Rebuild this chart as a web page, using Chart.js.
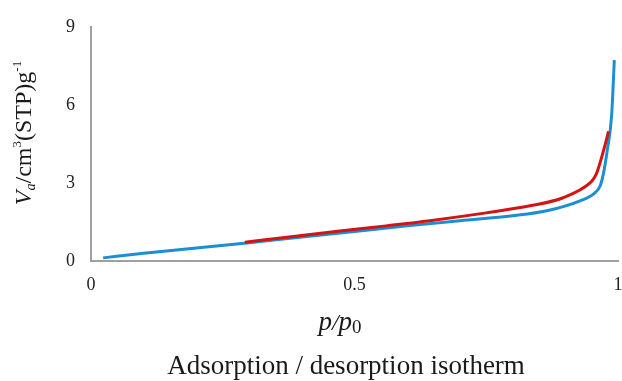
<!DOCTYPE html>
<html>
<head>
<meta charset="utf-8">
<script src="https://cdn.jsdelivr.net/npm/chart.js@4.4.1/dist/chart.umd.min.js"></script>
<style>
  html, body { margin: 0; padding: 0; background: #fff; }
  #wrap { width: 622px; height: 381px; position: relative; }
</style>
</head>
<body>
<div id="wrap"><canvas id="chart"></canvas></div>
<script>
// adsorption branch (blue)
const adsX = [0.023, 0.1, 0.2, 0.3, 0.4, 0.5, 0.6, 0.7, 0.8, 0.865, 0.928, 0.955, 0.966, 0.972, 0.98, 0.988, 0.993];
const adsY = [0.12, 0.3, 0.5, 0.7, 0.92, 1.13, 1.35, 1.55, 1.74, 1.93, 2.31, 2.6, 2.88, 3.33, 4.3, 5.62, 7.72];
// desorption branch (red)
const desX = [0.292, 0.38, 0.472, 0.56, 0.643, 0.75, 0.833, 0.896, 0.947, 0.955, 0.96, 0.972, 0.982];
const desY = [0.72, 0.93, 1.15, 1.35, 1.55, 1.85, 2.12, 2.43, 3.0, 3.2, 3.4, 4.2, 4.98];

const xTicks = [0, 0.5, 1];
const yTicks = [0, 3, 6, 9];

const toPts = (xs, ys) => xs.map((x, i) => ({ x: x, y: ys[i] }));

const serif = '"Liberation Serif", "Times New Roman", serif';

// draws a run of text pieces, each with its own font and baseline shift
function drawRun(ctx, parts, cx, baseline) {
    let total = 0;
    parts.forEach(p => { ctx.font = p.font; p.w = ctx.measureText(p.t).width; total += p.w; });
    let x = cx - total / 2;
    parts.forEach(p => {
        ctx.font = p.font;
        ctx.fillText(p.t, x, baseline + (p.dy || 0));
        x += p.w;
    });
}

const titles = {
    id: 'titles',
    afterDraw(chart) {
        const ctx = chart.ctx;
        ctx.save();
        ctx.fillStyle = '#1a1a1a';
        ctx.textBaseline = 'alphabetic';
        ctx.textAlign = 'left';

        // y axis title, rotated
        ctx.save();
        ctx.translate(31, 133);
        ctx.rotate(-Math.PI / 2);
        drawRun(ctx, [
            { t: 'V', font: 'italic 24px ' + serif },
            { t: 'a', font: 'italic 14px ' + serif, dy: 4 },
            { t: '/cm', font: '24px ' + serif },
            { t: '3', font: '13px ' + serif, dy: -10 },
            { t: '(STP)g', font: '24px ' + serif },
            { t: '-1', font: '13px ' + serif, dy: -10 }
        ], 0, 0);
        ctx.restore();

        // x axis title
        drawRun(ctx, [
            { t: 'p', font: 'italic 27px ' + serif },
            { t: '/', font: 'italic 24px ' + serif },
            { t: 'p', font: 'italic 27px ' + serif },
            { t: '0', font: '19px ' + serif, dy: 3 }
        ], 340, 330);

        // caption below
        drawRun(ctx, [
            { t: 'Adsorption / desorption isotherm', font: '27px ' + serif }
        ], 346, 374);
        ctx.restore();
    }
};

new Chart(document.getElementById('chart').getContext('2d'), {
    type: 'line',
    data: {
        datasets: [
            {
                label: 'Desorption',
                data: toPts(desX, desY),
                borderColor: '#d21414',
                borderWidth: 3,
                pointRadius: 0,
                cubicInterpolationMode: 'monotone',
                fill: false
            },
            {
                label: 'Adsorption',
                data: toPts(adsX, adsY),
                borderColor: '#1b8fd2',
                borderWidth: 3,
                pointRadius: 0,
                cubicInterpolationMode: 'monotone',
                fill: false
            }
        ]
    },
    options: {
        responsive: true,
        maintainAspectRatio: false,
        animation: false,
        layout: { padding: { top: 24, right: 4, left: 0, bottom: 0 } },
        plugins: {
            legend: { display: false },
            tooltip: { enabled: false }
        },
        scales: {
            x: {
                type: 'linear',
                min: 0,
                max: 1,
                afterBuildTicks: (s) => { s.ticks = xTicks.map(v => ({ value: v })); },
                afterFit: (s) => { s.height = 120; s.paddingLeft = 0; s.paddingRight = 0; },
                grid: { display: false, drawTicks: false },
                border: { display: true, color: '#a0a0a0', width: 2 },
                ticks: {
                    padding: 13,
                    color: '#222',
                    font: { family: serif, size: 18 },
                    callback: (v) => String(v)
                }
            },
            y: {
                min: 0,
                max: 9,
                afterBuildTicks: (s) => { s.ticks = yTicks.map(v => ({ value: v })); },
                afterFit: (s) => { s.width = 91; },
                grid: { display: false, drawTicks: false },
                border: { display: true, color: '#a0a0a0', width: 2 },
                ticks: {
                    padding: 16,
                    color: '#222',
                    font: { family: serif, size: 18 }
                }
            }
        }
    },
    plugins: [titles]
});
</script>
</body>
</html>
